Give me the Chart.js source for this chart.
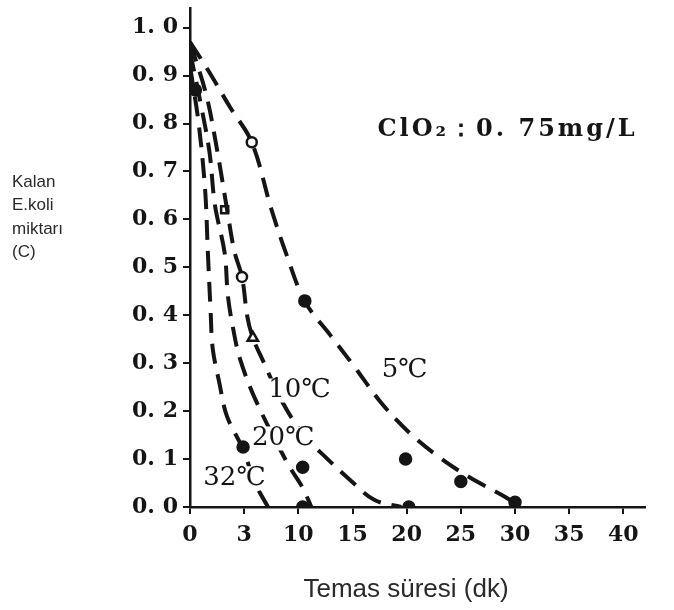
<!DOCTYPE html>
<html>
<head>
<meta charset="utf-8">
<script src="https://cdn.jsdelivr.net/npm/chart.js@4.4.1/dist/chart.umd.min.js"></script>
<style>
  html, body { margin: 0; padding: 0; background: #fff; }
  #wrap { width: 674px; height: 610px; position: relative; }
</style>
</head>
<body>
<div id="wrap"><canvas id="decayChart"></canvas></div>
<script>
// axis ticks as printed in the figure (the "3" under 5 is in the original)
const xTicks = [0, 5, 10, 15, 20, 25, 30, 35, 40];
const xTickLabels = ['0', '3', '10', '15', '20', '25', '30', '35', '40'];
const yTicks = [0, 0.1, 0.2, 0.3, 0.4, 0.5, 0.6, 0.7, 0.8, 0.9, 1.0];
const yTickLabels = ['0. 0', '0. 1', '0. 2', '0. 3', '0. 4', '0. 5', '0. 6', '0. 7', '0. 8', '0. 9', '1. 0'];

// dashed curves, one per temperature (contact time in min, remaining fraction)
const t32x = [0, 0.8, 1.4, 1.65, 1.9, 2.1, 2.7, 3.4, 4.9, 6.0, 7.2];
const t32y = [0.92, 0.8, 0.66, 0.53, 0.41, 0.33, 0.26, 0.19, 0.12, 0.05, 0];
const t20x = [0, 1.0, 1.8, 2.3, 3.2, 3.5, 4.0, 4.6, 6.0, 9.0, 10.4, 11.2];
const t20y = [0.95, 0.84, 0.74, 0.63, 0.53, 0.44, 0.37, 0.31, 0.226, 0.091, 0.04, 0];
const t10x = [0, 1.5, 2.5, 3.5, 4.1, 4.8, 5.3, 5.8, 6.7, 8.5, 10.5, 12.7, 14.8, 17.0, 19.5];
const t10y = [0.97, 0.86, 0.745, 0.61, 0.533, 0.48, 0.396, 0.353, 0.307, 0.22, 0.15, 0.1, 0.056, 0.015, 0];
const t5x = [0, 1.7, 3.7, 5.7, 7.5, 8.9, 10.6, 13.0, 15.1, 17.7, 20.2, 23.0, 25.8, 29.1, 30.5];
const t5y = [0.97, 0.91, 0.834, 0.761, 0.622, 0.527, 0.429, 0.357, 0.295, 0.216, 0.156, 0.104, 0.062, 0.021, 0];

// measured points
const openCircleX = [5.7, 4.8];
const openCircleY = [0.761, 0.48];
const openSquareX = [3.2];
const openSquareY = [0.62];
const openTriX = [5.8];
const openTriY = [0.353];
const dotX = [0.5, 4.9, 10.4, 10.4, 10.6, 19.9, 20.2, 25.0, 30.0];
const dotY = [0.87, 0.125, 0.083, 0, 0.43, 0.10, 0, 0.053, 0.01];

const ink = '#151515';
const pts = (xs, ys) => xs.map((x, i) => ({ x: x, y: ys[i] }));

function curve(xs, ys) {
  return {
    type: 'line', data: pts(xs, ys), borderColor: ink, borderWidth: 4,
    borderDash: [20, 11], tension: 0.35, pointRadius: 0, fill: false
  };
}
function marks(xs, ys, style, filled, r) {
  return {
    type: 'scatter', data: pts(xs, ys), pointStyle: style, pointRadius: r,
    pointBorderColor: ink, pointBorderWidth: 2.5,
    pointBackgroundColor: filled ? ink : '#fff'
  };
}

// text drawn into the plot
const notes = [
  { text: '5℃', x: 19.8, y: 0.286, align: 'center', box: true },
  { text: '10℃', x: 10.1, y: 0.243, align: 'center', box: true },
  { text: '20℃', x: 8.6, y: 0.143, align: 'center', box: true },
  { text: '32℃', x: 4.1, y: 0.06, align: 'center', box: true },
  { text: 'ClO₂：0. 75mg/L', x: 17.3, y: 0.788, align: 'left', box: false }
];

const textPlugin = {
  id: 'figText',
  afterDatasetsDraw(chart) {
    const c = chart.ctx, sx = chart.scales.x, sy = chart.scales.y;
    c.save();
    c.textBaseline = 'middle';
    notes.forEach(n => {
      c.font = n.box ? '26px "DejaVu Serif"' : 'bold 24px "DejaVu Serif"';
      c.letterSpacing = n.box ? '0px' : '3px';
      const px = sx.getPixelForValue(n.x), py = sy.getPixelForValue(n.y);
      const w = c.measureText(n.text).width;
      const left = n.align === 'center' ? px - w / 2 : px;
      if (n.box) {
        c.fillStyle = '#fff';
        c.fillRect(left - 1, py - 12, w + 2, 24);
      }
      c.fillStyle = ink;
      c.textAlign = 'left';
      c.fillText(n.text, left, py);
    });
    c.letterSpacing = '0px';
    // axis titles
    c.fillStyle = '#2a2a2a';
    c.font = '17px "Liberation Sans"';
    c.textAlign = 'left';
    ['Kalan', 'E.koli', 'miktarı', '(C)'].forEach((s, i) => c.fillText(s, 12, 182 + i * 23.5));
    c.font = '26px "Liberation Sans"';
    c.textAlign = 'center';
    c.fillText('Temas süresi (dk)', 406, 590);
    c.restore();
  }
};

const ctx = document.getElementById('decayChart').getContext('2d');
new Chart(ctx, {
  data: {
    datasets: [
      curve(t32x, t32y), curve(t20x, t20y), curve(t10x, t10y), curve(t5x, t5y),
      marks(openCircleX, openCircleY, 'circle', false, 5),
      marks(openSquareX, openSquareY, 'rect', false, 5),
      marks(openTriX, openTriY, 'triangle', false, 6),
      marks(dotX, dotY, 'circle', true, 5.5)
    ]
  },
  options: {
    responsive: true,
    maintainAspectRatio: false,
    animation: false,
    events: [],
    layout: { padding: { left: 0, right: 29, top: 5, bottom: 0 } },
    plugins: { legend: { display: false }, tooltip: { enabled: false } },
    scales: {
      x: {
        type: 'linear', min: 0, max: 42,
        afterBuildTicks: s => { s.ticks = xTicks.map(v => ({ value: v })); },
        afterFit: s => { s.height = 103; s.paddingLeft = 0; s.paddingRight = 0; },
        ticks: {
          callback: (v, i) => xTickLabels[i],
          font: { family: 'DejaVu Serif', weight: 'bold', size: 22 },
          color: ink, padding: 8, maxRotation: 0
        },
        grid: { drawOnChartArea: false, drawTicks: true, tickLength: 7, color: ink, lineWidth: 2 },
        border: { display: true, color: ink, width: 2.5 }
      },
      y: {
        type: 'linear', min: 0, max: 1.04,
        afterBuildTicks: s => { s.ticks = yTicks.map(v => ({ value: v })); },
        afterFit: s => { s.width = 190; s.paddingTop = 0; s.paddingBottom = 0; },
        ticks: {
          callback: (v, i) => yTickLabels[i],
          font: { family: 'DejaVu Serif', weight: 'bold', size: 22 },
          color: ink, padding: 5
        },
        grid: { drawOnChartArea: false, drawTicks: true, tickLength: 7, color: ink, lineWidth: 2 },
        border: { display: true, color: ink, width: 2.5 }
      }
    }
  },
  plugins: [textPlugin]
});
</script>
</body>
</html>
